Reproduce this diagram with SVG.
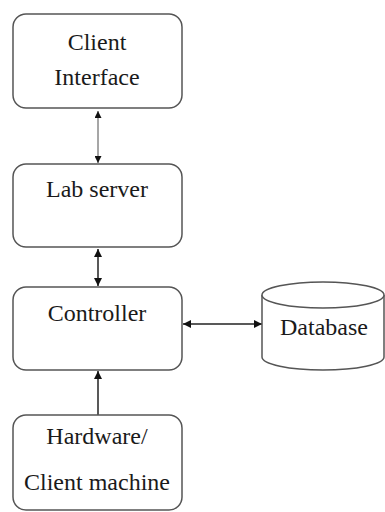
<svg xmlns="http://www.w3.org/2000/svg" width="385" height="512" viewBox="0 0 385 512">
  <style>
    .box { fill: #ffffff; stroke: #555555; stroke-width: 1.5; }
    .lbl { font-family: 'Liberation Serif', 'Times New Roman', Times, serif; font-size: 24px; fill: #1a1a1a; text-anchor: middle; }
    .conn { stroke: #222222; fill: none; }
  </style>
  <defs>
    <marker id="ah" viewBox="0 0 10 10" refX="10" refY="5" markerWidth="8" markerHeight="8" markerUnits="userSpaceOnUse" orient="auto-start-reverse">
      <path d="M0,0 L10,5 L0,10 z" fill="#111111"/>
    </marker>
    <marker id="ahs" viewBox="0 0 10 10" refX="10" refY="5" markerWidth="7" markerHeight="7" markerUnits="userSpaceOnUse" orient="auto-start-reverse">
      <path d="M0,0 L10,5 L0,10 z" fill="#111111"/>
    </marker>
  </defs>
  <rect width="385" height="512" fill="#ffffff"/>

  <g id="connectors">
    <line class="conn" x1="98" y1="111" x2="98" y2="163" stroke-width="0.8" stroke="#555555" marker-start="url(#ahs)" marker-end="url(#ahs)"/>
    <line class="conn" x1="98" y1="249" x2="98" y2="286" stroke-width="1.5" marker-start="url(#ah)" marker-end="url(#ah)"/>
    <line class="conn" x1="183" y1="324" x2="262" y2="324" stroke-width="1.5" marker-start="url(#ah)" marker-end="url(#ah)"/>
    <line class="conn" x1="98" y1="415" x2="98" y2="371" stroke-width="1.5" marker-end="url(#ah)"/>
  </g>

  <g id="client-interface">
    <rect class="box" x="13" y="14" width="169" height="94" rx="13" ry="13"/>
    <text class="lbl" x="97" y="50">Client</text>
    <text class="lbl" x="97" y="85">Interface</text>
  </g>

  <g id="lab-server">
    <rect class="box" x="13" y="164" width="169" height="83" rx="13" ry="13"/>
    <text class="lbl" x="97" y="197">Lab server</text>
  </g>

  <g id="controller">
    <rect class="box" x="13" y="287" width="169" height="83" rx="13" ry="13"/>
    <text class="lbl" x="97" y="321">Controller</text>
  </g>

  <g id="hardware">
    <rect class="box" x="13" y="415" width="169" height="95" rx="13" ry="13"/>
    <text class="lbl" x="97" y="444">Hardware/</text>
    <text class="lbl" x="97" y="490">Client machine</text>
  </g>

  <g id="database">
    <path class="box" d="M262,295 L262,357 A61,13 0 0 0 384,357 L384,295"/>
    <ellipse class="box" cx="323" cy="295" rx="61" ry="13"/>
    <text class="lbl" x="324" y="335">Database</text>
  </g>
</svg>
